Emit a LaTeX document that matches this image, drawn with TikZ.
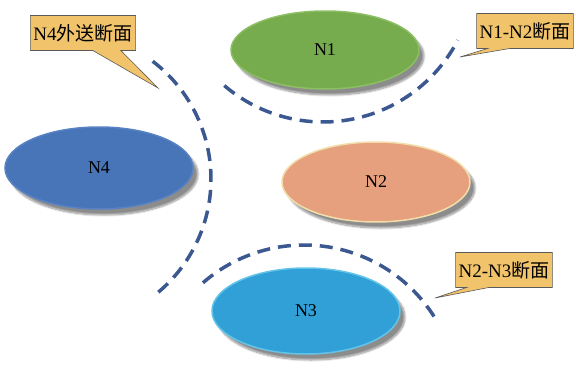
\documentclass[tikz,border=0pt]{standalone}
\usepackage{fontspec}
\setmainfont{Liberation Serif}
\newfontfamily\cjk{Noto Sans CJK SC}
\usetikzlibrary{shapes.geometric,shapes.callouts,shadows.blur}

\definecolor{greenfill}{RGB}{118,172,78}
\definecolor{greenrim}{RGB}{140,190,100}
\definecolor{salmonfill}{RGB}{230,160,125}
\definecolor{salmonrim}{RGB}{242,222,170}
\definecolor{cyanfill}{RGB}{48,160,214}
\definecolor{cyanrim}{RGB}{100,195,232}
\definecolor{bluefill}{RGB}{72,116,184}
\definecolor{bluerim}{RGB}{88,130,195}
\definecolor{cutblue}{RGB}{60,88,145}
\definecolor{tagfill}{RGB}{241,196,108}
\definecolor{tagline}{RGB}{90,90,90}

\tikzstyle{sect} = [ellipse, minimum width=188pt, minimum height=80pt, inner sep=0pt,
  line width=1.5pt, font=\fontsize{18}{20}\selectfont,
  blur shadow={shadow xshift=5pt, shadow yshift=-6pt, shadow blur steps=12, shadow opacity=45}]
\tikzstyle{cut} = [draw=cutblue, line width=3.5pt, dash pattern=on 13pt off 8pt]
\tikzstyle{tag} = [rectangle callout, draw=tagline, fill=tagfill, line width=0.6pt,
  inner xsep=3pt, minimum height=35pt, callout pointer width=28pt,
  font=\fontsize{19}{21}\selectfont]

\begin{document}
\begin{tikzpicture}[x=1pt, y=-1pt]
  \useasboundingbox (0,0) rectangle (576,372);

  % sections
  \node[sect, fill=greenfill, draw=greenrim, minimum height=78pt] (n1) at (325,50) {N1};
  \node[sect, fill=salmonfill, draw=salmonrim] (n2) at (376,182) {N2};
  \node[sect, fill=cyanfill, draw=cyanrim, minimum height=86pt] (n3) at (306,311) {N3};
  \node[sect, fill=bluefill, draw=bluerim, minimum height=82pt] (n4) at (99,168) {N4};

  % cut lines
  \coordinate (c12) at (323,-30);
  \coordinate (c23) at (304,399);
  \coordinate (c4) at (63,179);
  \draw[cut] (c12) ++(229.5:152pt) arc[start angle=229.5, end angle=332.5, radius=152pt];
  \draw[cut] (c23) ++(131:154pt) arc[start angle=131, end angle=31, radius=154pt];
  \draw[cut] (c4) ++(52.7:148pt) arc[start angle=52.7, end angle=-51.5, radius=148pt];

  % labels
  \coordinate (p4) at (158,88);
  \coordinate (p12) at (460,57);
  \coordinate (p23) at (435,298);
  \node[tag, callout absolute pointer={(p4)}] (t4) at (83,33) {N4{\cjk 外送断面}};
  \node[tag, callout absolute pointer={(p12)}, callout pointer width=22pt] (t12) at (525,31) {N1-N2{\cjk 断面}};
  \node[tag, callout absolute pointer={(p23)}, callout pointer width=22pt] (t23) at (504,270) {N2-N3{\cjk 断面}};
\end{tikzpicture}
\end{document}
